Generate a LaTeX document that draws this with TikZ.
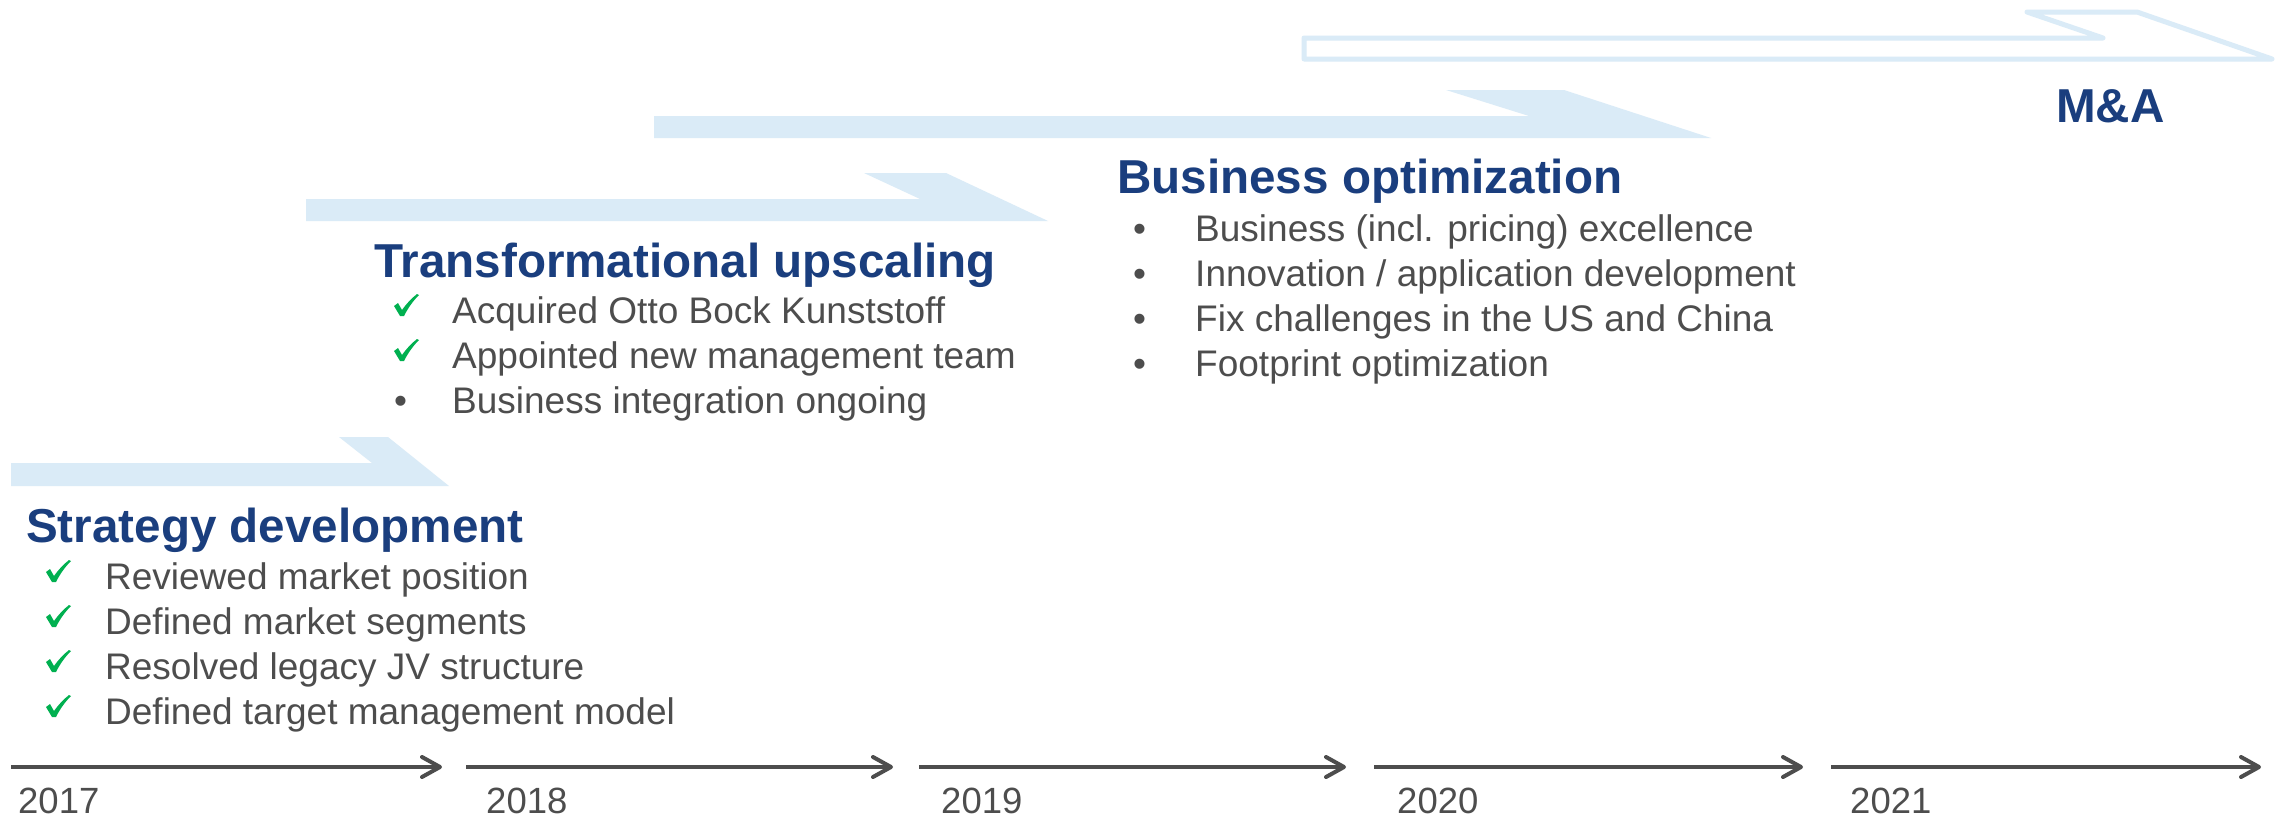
\documentclass[tikz,border=0pt]{standalone}
\usepackage{fontspec}
\setmainfont{Liberation Sans}
\usetikzlibrary{arrows.meta}
\definecolor{arrowfill}{RGB}{218,235,247}
\definecolor{headblue}{RGB}{26,62,126}
\definecolor{bodygray}{RGB}{77,77,77}
\definecolor{checkgreen}{RGB}{0,176,80}
\definecolor{linegray}{RGB}{77,77,77}
\begin{document}
\begin{tikzpicture}[x=1pt,y=-1pt,
  phase/.style={fill=arrowfill},
  phaseoutline/.style={draw=arrowfill,line width=5pt,line join=round},
  head/.style={anchor=base west,inner sep=0pt,text=headblue,font=\fontsize{47.6pt}{56pt}\selectfont\bfseries},
  item/.style={anchor=base west,inner sep=0pt,text=bodygray,font=\fontsize{37pt}{44pt}\selectfont},
  yearlbl/.style={anchor=base west,inner sep=0pt,text=bodygray,font=\fontsize{36.5pt}{42pt}\selectfont},
  tline/.style={draw=linegray,line width=4pt,-{Straight Barb[length=18pt,width=20pt,round]}},
  chk/.pic={\fill[checkgreen] (-4,0) -- (-10,-10) -- (-6,-13) -- (-2,-6)
      .. controls (3,-13) and (8,-18) .. (13,-22) -- (15,-21)
      .. controls (9,-15) and (4,-8) .. (0,0) -- cycle;}
]
\fill[white] (0,0) rectangle (2280,819);
\useasboundingbox (0,0) rectangle (2280,819);

% phase arrows
\fill[phase] (11,463) -- (372,463) -- (339,437) -- (388,437) -- (449,486) -- (11,486) -- cycle;
\fill[phase] (306,199) -- (920,199) -- (864,173) -- (946,173) -- (1048,221) -- (306,221) -- cycle;
\fill[phase] (654,116) -- (1529,116) -- (1446,90) -- (1564,90) -- (1711,138) -- (654,138) -- cycle;
\draw[phaseoutline] (1304,38) -- (2103,38) -- (2027,12) -- (2137,12) -- (2272,59) -- (1304,59) -- cycle;

% Strategy development
\node[head] (sdh) at (26,542) {Strategy development};
\node[item] (sd1) at (105,589) {Reviewed market position};
\node[item] (sd2) at (105,634) {Defined market segments};
\node[item] (sd3) at (105,679) {Resolved legacy JV structure};
\node[item] (sd4) at (105,724) {Defined target management model};
\foreach \yy in {589,634,679,724} \pic at (56,\yy-7) {chk};

% Transformational upscaling
\node[head] (tuh) at (374,277) {Transformational upscaling};
\node[item] (tu1) at (452,323) {Acquired Otto Bock Kunststoff};
\node[item] (tu2) at (452,368) {Appointed new management team};
\node[item] (tu3) at (452,413) {Business integration ongoing};
\foreach \yy in {323,368} \pic at (404,\yy-7) {chk};
\node[item] (tub3) at (394,413) {•};

% Business optimization
\node[head] (boh) at (1117,193) {Business optimization};
\node[item] (bo1) at (1195,241) {Business (incl. pricing) excellence};
\node[item] (bo2) at (1195,286) {Innovation / application development};
\node[item] (bo3) at (1195,331) {Fix challenges in the US and China};
\node[item] (bo4) at (1195,376) {Footprint optimization};
\foreach \yy/\nn in {241/1,286/2,331/3,376/4} \node[item] (bob\nn) at (1133,\yy) {•};

% M&A
\node[head] (mah) at (2056,122) {M\&A};

% timeline
\coordinate (t1s) at (11,767);   \coordinate (t1e) at (442,767);
\coordinate (t2s) at (466,767);  \coordinate (t2e) at (893,767);
\coordinate (t3s) at (919,767);  \coordinate (t3e) at (1346,767);
\coordinate (t4s) at (1374,767); \coordinate (t4e) at (1803,767);
\coordinate (t5s) at (1831,767); \coordinate (t5e) at (2261,767);
\draw[tline] (t1s) -- (t1e);
\draw[tline] (t2s) -- (t2e);
\draw[tline] (t3s) -- (t3e);
\draw[tline] (t4s) -- (t4e);
\draw[tline] (t5s) -- (t5e);
\node[yearlbl] (y1) at (18,813) {2017};
\node[yearlbl] (y2) at (486,813) {2018};
\node[yearlbl] (y3) at (941,813) {2019};
\node[yearlbl] (y4) at (1397,813) {2020};
\node[yearlbl] (y5) at (1850,813) {2021};
\end{tikzpicture}
\end{document}
